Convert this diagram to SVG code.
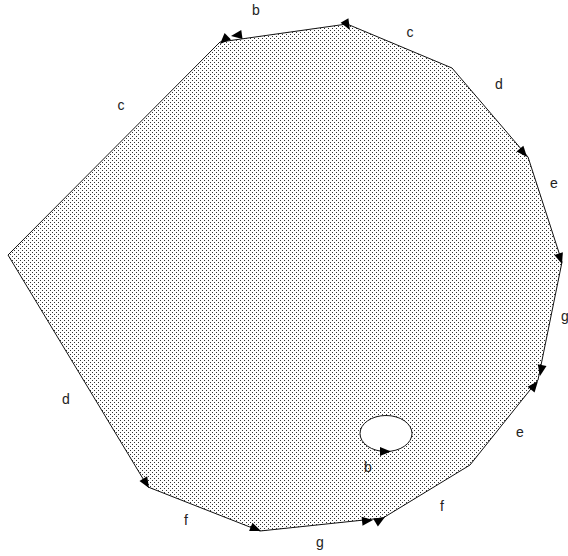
<svg xmlns="http://www.w3.org/2000/svg" xmlns:xlink="http://www.w3.org/1999/xlink" width="568" height="556" viewBox="0 0 568 556">
<style>
.lbl{font-family:"Liberation Sans",Arial,sans-serif;font-size:14px;fill:#222;text-anchor:middle}
.edge{fill:none;stroke:#111;stroke-width:1}
</style>
<defs>
<pattern id="dots" width="4" height="4" patternUnits="userSpaceOnUse">
<rect x="0" y="0" width="1" height="1" fill="#333"/>
<rect x="2" y="2" width="1" height="1" fill="#333"/>
</pattern>
<path id="ah" d="M0,0 L-11,-4.5 L-11,4.5 Z" fill="#000"/>
</defs>
<rect width="568" height="556" fill="#fff"/>
<g id="region">
<path d="M8,255 L220,42 L347,24 L452,68 L528,157 L562,262 L538,380 L470,465 L383,518 L260,531 L148,487 Z M412,433.5 A26,18 0 1 0 360,433.5 A26,18 0 1 0 412,433.5 Z" fill="url(#dots)" fill-rule="evenodd"/>
</g>
<g id="connectors">
<path class="edge" d="M8,255 L220,42 L347,24 L452,68 L528,157 L562,262 L538,380 L470,465 L383,518 L260,531 L148,487 Z"/>
<ellipse class="edge" cx="386" cy="433.5" rx="26" ry="18"/>
<use xlink:href="#ah" transform="translate(220,44) rotate(135)"/>
<use xlink:href="#ah" transform="translate(231,36) rotate(172)"/>
<use xlink:href="#ah" transform="translate(350,30) rotate(60)"/>
<use xlink:href="#ah" transform="translate(527,157) rotate(50)"/>
<use xlink:href="#ah" transform="translate(562,264) rotate(72)"/>
<use xlink:href="#ah" transform="translate(540,376) rotate(101)"/>
<use xlink:href="#ah" transform="translate(538,381) rotate(-51)"/>
<use xlink:href="#ah" transform="translate(385,517) rotate(-31)"/>
<use xlink:href="#ah" transform="translate(373,520) rotate(-6)"/>
<use xlink:href="#ah" transform="translate(261,531) rotate(22)"/>
<use xlink:href="#ah" transform="translate(149,488) rotate(59)"/>
<use xlink:href="#ah" transform="translate(391,451.5) rotate(0)"/>
</g>
<g id="labels">
<text class="lbl" x="256" y="15">b</text>
<text class="lbl" x="410" y="37">c</text>
<text class="lbl" x="499" y="89">d</text>
<text class="lbl" x="554" y="188">e</text>
<text class="lbl" x="565" y="321">g</text>
<text class="lbl" x="520" y="437">e</text>
<text class="lbl" x="442" y="511">f</text>
<text class="lbl" x="368" y="472">b</text>
<text class="lbl" x="320" y="547">g</text>
<text class="lbl" x="186" y="525">f</text>
<text class="lbl" x="66" y="404">d</text>
<text class="lbl" x="121" y="110">c</text>
</g>
</svg>
